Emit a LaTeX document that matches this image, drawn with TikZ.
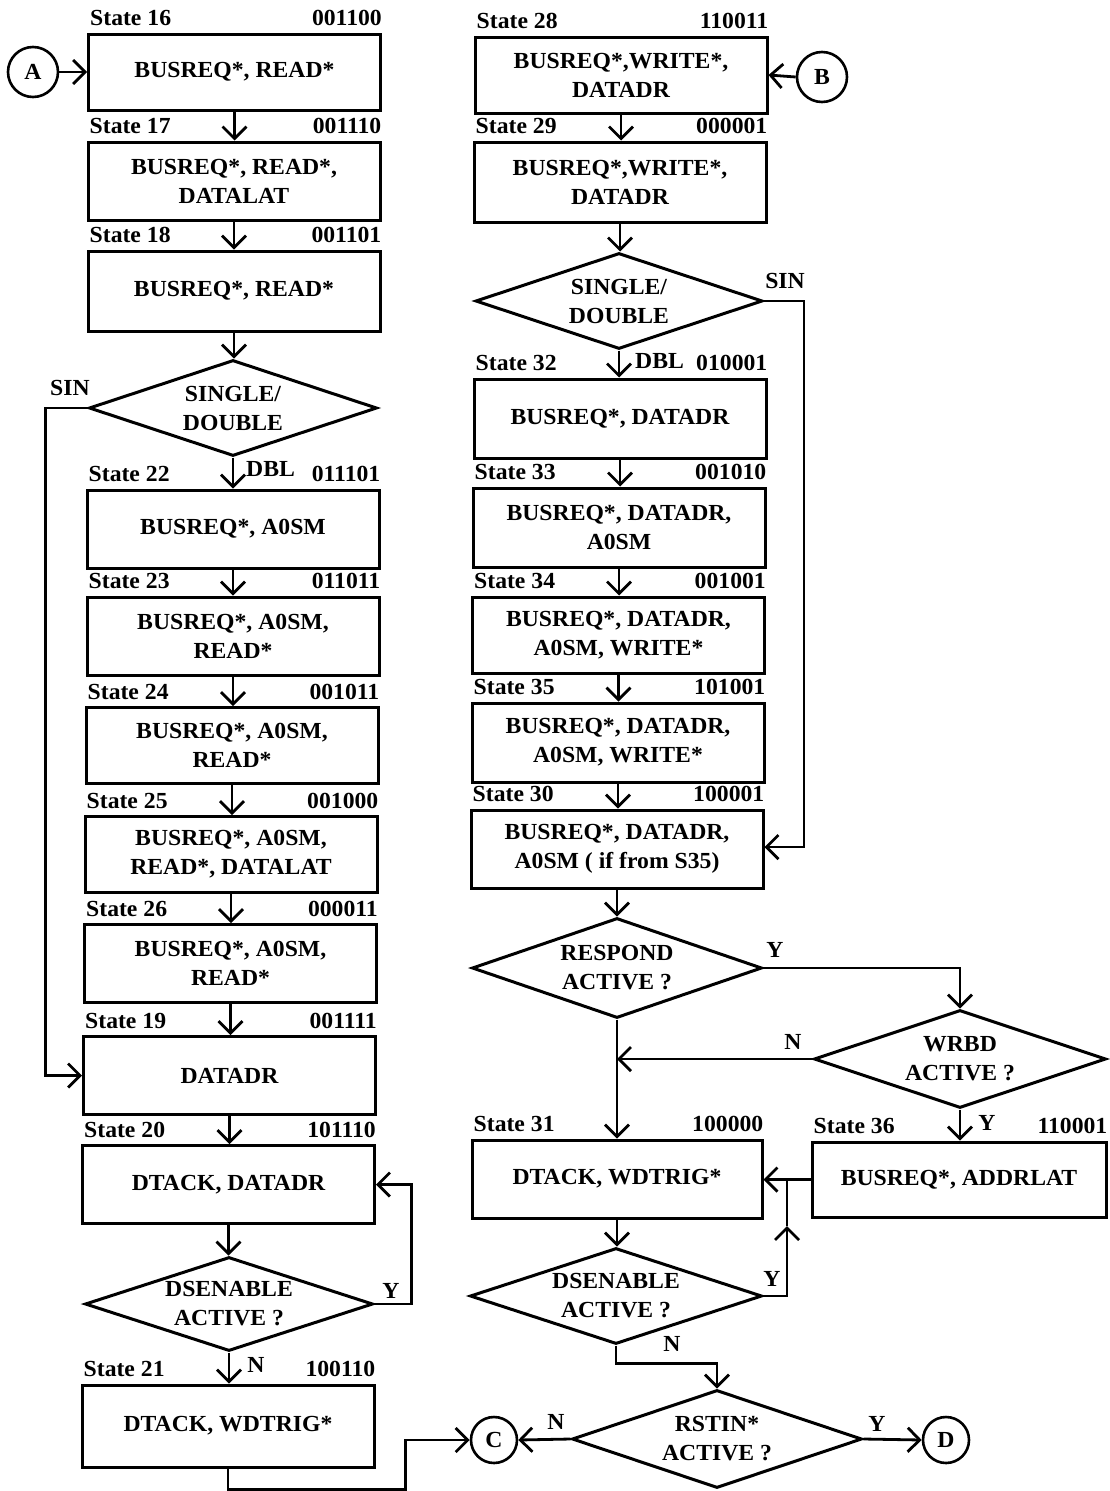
\documentclass[tikz,border=0pt]{standalone}
\usepackage{fontspec}
\setmainfont[FakeStretch=1.03]{Liberation Serif}
\usetikzlibrary{shapes.geometric,arrows.meta}
\newcommand{\fsz}{\fontsize{23}{29}\selectfont\bfseries}
\begin{document}
\begin{tikzpicture}[x=1pt,y=-1pt,
  box/.style={draw, line width=3pt, minimum width=292pt, inner sep=0pt, align=center, font=\fsz},
  dec/.style={diamond, draw, line width=3pt, shape aspect=3, inner sep=0pt, align=center, font=\fsz},
  conn/.style={circle, draw, line width=2.6pt, inner sep=0pt, font=\fsz},
  lbl/.style={inner sep=0pt, font=\fsz},
  arr/.style={line width=2.8pt, -{Straight Barb[length=12pt,width=24pt]}},
  ln/.style={line width=2.8pt}]
\useasboundingbox (0,0) rectangle (1109,1491);
\fill[white] (0,0) rectangle (1109,1491);

% ---------- left column ----------
\node[box, minimum height=76pt] (b16) at (234.5,72) {BUSREQ*, READ*};
\node[box, minimum height=78pt] (b17) at (234,181) {BUSREQ*, READ*,\\DATALAT};
\node[box, minimum height=80pt] (b18) at (234,291) {BUSREQ*, READ*};
\node[dec, minimum width=288pt, minimum height=96pt] (d1) at (233,408) {SINGLE/\\DOUBLE};
\node[box, minimum height=78pt] (b22) at (233,529) {BUSREQ*, A0SM};
\node[box, minimum height=78pt] (b23) at (233,636) {BUSREQ*, A0SM,\\READ*};
\node[box, minimum height=76pt] (b24) at (232,745.5) {BUSREQ*, A0SM,\\READ*};
\node[box, minimum height=76pt] (b25) at (231,854.5) {BUSREQ*, A0SM,\\READ*, DATALAT};
\node[box, minimum height=78pt] (b26) at (230.5,963.5) {BUSREQ*, A0SM,\\READ*};
\node[box, minimum height=78pt] (b19) at (229.5,1075.5) {DATADR};
\node[box, minimum height=78pt] (b20) at (228.5,1184.5) {DTACK, DATADR};
\node[dec, minimum width=288pt, minimum height=94pt] (d3) at (229,1304) {DSENABLE\\ACTIVE ?};
\node[box, minimum height=82pt] (b21) at (228,1426) {DTACK, WDTRIG*};

\node[conn, minimum size=50pt] (A) at (33,72) {A};
\node[conn, minimum size=46pt] (C) at (494,1440) {C};

% state labels left
\foreach \b/\s/\c in {b16/16/001100, b17/17/001110, b18/18/001101, b22/22/011101, b23/23/011011,
  b24/24/001011, b25/25/001000, b26/26/000011, b19/19/001111, b20/20/101110, b21/21/100110}{
  \node[lbl, anchor=base west] (s\b) at ([xshift=3pt,yshift=7pt]\b.north west) {State \s};
  \node[lbl, anchor=base east] (c\b) at ([yshift=7pt]\b.north east) {\c};
}

% connectors left
\draw[arr] (A.east) -- (b16.west);
\draw[arr] (b16.south) -- (b16.south |- b17.north);
\draw[arr] (b17.south) -- (b17.south |- b18.north);
\draw[arr] (b18.south) -- (b18.south |- d1.north);
\draw[arr] (d1.south) -- (d1.south |- b22.north);
\draw[arr] (b22.south) -- (b22.south |- b23.north);
\draw[arr] (b23.south) -- (b23.south |- b24.north);
\draw[arr] (b24.south) -- (b24.south |- b25.north);
\draw[arr] (b25.south) -- (b25.south |- b26.north);
\draw[arr] (b26.south) -- (b26.south |- b19.north);
\draw[arr] (d1.west) -- ++(-42,0) |- (b19.west);
\draw[arr] (b19.south) -- (b19.south |- b20.north);
\draw[arr] (b20.south) -- (b20.south |- d3.north);
\draw[arr] (d3.south) -- (d3.south |- b21.north);
\draw[arr] (d3.east) -- ++(37,0) |- (b20.east);
\draw[arr] (b21.south) -- ++(0,21) -| ([xshift=-64pt]C.west) -- (C.west);

\node[lbl] (tsin1) at (70,388) {SIN};
\node[lbl, anchor=west] (tdbl1) at (246,469) {DBL};
\node[lbl] (tn3) at (256,1365) {N};
\node[lbl] (ty3) at (391,1291) {Y};

% ---------- right column ----------
\node[box, minimum height=76pt] (b28) at (621,75) {BUSREQ*,WRITE*,\\DATADR};
\node[box, minimum height=80pt] (b29) at (620,182) {BUSREQ*,WRITE*,\\DATADR};
\node[dec, minimum width=287pt, minimum height=96pt] (d2) at (619,301) {SINGLE/\\DOUBLE};
\node[box, minimum height=79pt] (b32) at (620,418.5) {BUSREQ*, DATADR};
\node[box, minimum height=79pt] (b33) at (619,527.5) {BUSREQ*, DATADR,\\A0SM};
\node[box, minimum height=76pt] (b34) at (618.5,635) {BUSREQ*, DATADR,\\A0SM, WRITE*};
\node[box, minimum height=79pt] (b35) at (618,742.5) {BUSREQ*, DATADR,\\A0SM, WRITE*};
\node[box, minimum height=78pt] (b30) at (617,849) {BUSREQ*, DATADR,\\A0SM ( if from S35)};
\node[dec, minimum width=290pt, minimum height=100pt] (resp) at (617,968) {RESPOND\\ACTIVE ?};
\node[dec, minimum width=292pt, minimum height=98pt] (wrbd) at (960,1059) {WRBD\\ACTIVE ?};
\node[box, minimum width=290pt, minimum height=78pt] (b31) at (617,1179) {DTACK, WDTRIG*};
\node[box, minimum width=294pt, minimum height=75pt] (b36) at (959,1179.5) {BUSREQ*, ADDRLAT};
\node[dec, minimum width=292pt, minimum height=96pt] (d4) at (616,1296) {DSENABLE\\ACTIVE ?};
\node[dec, minimum width=290pt, minimum height=98pt] (rstin) at (717,1439) {RSTIN*\\ACTIVE ?};

\node[conn, minimum size=50pt] (B) at (822,77) {B};
\node[conn, minimum size=46pt] (D) at (946,1440) {D};

\foreach \b/\s/\c in {b28/28/110011, b29/29/000001, b32/32/010001, b33/33/001010, b34/34/001001,
  b35/35/101001, b30/30/100001, b31/31/100000, b36/36/110001}{
  \node[lbl, anchor=base west] (s\b) at ([xshift=3pt,yshift=7pt]\b.north west) {State \s};
  \node[lbl, anchor=base east] (c\b) at ([yshift=7pt]\b.north east) {\c};
}

\coordinate (yj) at (787,1226);
\draw[arr] (B.west) -- (b28.east);
\draw[arr] (b28.south) -- (b28.south |- b29.north);
\draw[arr] (b29.south) -- (b29.south |- d2.north);
\draw[arr] (d2.south) -- (d2.south |- b32.north);
\draw[arr] (b32.south) -- (b32.south |- b33.north);
\draw[arr] (b33.south) -- (b33.south |- b34.north);
\draw[arr] (b34.south) -- (b34.south |- b35.north);
\draw[arr] (b35.south) -- (b35.south |- b30.north);
\draw[arr] (d2.east) -- ++(40,0) |- ([yshift=2pt]b30.east);
\draw[arr] (b30.south) -- (b30.south |- resp.north);
\draw[arr] (resp.east) -| (wrbd.north);
\draw[arr] (wrbd.west) -- (wrbd.west -| resp.south);
\draw[arr] (resp.south) -- (resp.south |- b31.north);
\draw[arr] (wrbd.south) -- (wrbd.south |- b36.north);
\draw[arr] (b36.west) -- (b31.east |- b36.west);
\draw[arr] (b31.south) -- (b31.south |- d4.north);
\draw[arr] (d4.east) -| (yj);
\draw[ln] (yj) -- (yj |- b36.west);
\draw[arr] (d4.south) -- ++(0,18) -| (rstin.north);
\draw[arr] (rstin.west) -- (C.east);
\draw[arr] (rstin.east) -- (D.west);

\node[lbl] (tsin2) at (785,281) {SIN};
\node[lbl, anchor=west] (tdbl2) at (635,361) {DBL};
\node[lbl] (tyr) at (775,950) {Y};
\node[lbl] (tnw) at (793,1042) {N};
\node[lbl] (tyw) at (987,1123) {Y};
\node[lbl] (ty4) at (772,1279) {Y};
\node[lbl] (tn4) at (672,1344) {N};
\node[lbl] (tnr) at (556,1422) {N};
\node[lbl] (tyr2) at (877,1424) {Y};
\end{tikzpicture}
\end{document}
